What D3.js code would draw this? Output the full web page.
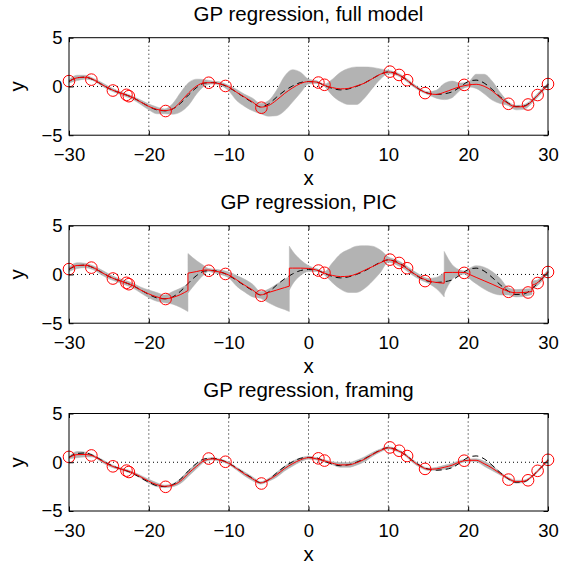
<!DOCTYPE html>
<html>
<head>
<meta charset="utf-8">
<script src="https://cdn.jsdelivr.net/npm/d3@7"></script>
<style>
  body { margin: 0; background: #fff; }
  svg { display: block; font-family: "Liberation Sans", Arial, Helvetica, sans-serif; }
</style>
</head>
<body>
<svg id="chart" width="570" height="567"></svg>
<script>
// ---- data ----
const titles = ["GP regression, full model", "GP regression, PIC", "GP regression, framing"];
const xTicks = [-30, -20, -10, 0, 10, 20, 30];
const yTicks = [-5, 0, 5];

// training points (red circles), same in every panel
const trainX = [-30, -27.2, -24.5, -22.8, -22.5, -17.9, -12.5, -10.4, -5.9, 1.24, 2.0, 10.2, 11.35, 12.35, 14.6, 19.5, 25.05, 27.5, 28.7, 30];
const trainY = [0.55, 0.7, -0.42, -0.86, -1.0, -2.52, 0.38, 0.05, -2.18, 0.4, 0.17, 1.52, 1.18, 0.64, -0.68, 0.16, -1.78, -1.85, -0.88, 0.25];

// grid for the smooth curves
const gridX = [-30, -29, -28, -27, -26, -25, -24, -23, -22, -21, -20, -19, -18, -17, -16, -15, -14, -13, -12, -11, -10,
  -9, -8, -7, -6, -5, -4, -3, -2, -1, 0, 1, 2, 3, 4, 5, 6, 7, 8, 9, 10,
  11, 12, 13, 14, 15, 16, 17, 18, 19, 20, 21, 22, 23, 24, 25, 26, 27, 28, 29, 30];

// true function (black dashed)
const truth = [0.5, 0.9, 0.95, 0.7, 0.25, -0.2, -0.55, -0.82, -1.15, -1.6, -2.05, -2.4, -2.5, -2.3, -1.7, -0.85, -0.1, 0.35, 0.4, 0.25, -0.1,
  -0.6, -1.15, -1.65, -2.1, -1.8, -1.1, -0.45, 0.05, 0.4, 0.5, 0.45, 0.1, -0.2, -0.35, -0.25, 0.0, 0.35, 0.8, 1.25, 1.5,
  1.3, 0.85, 0.2, -0.35, -0.7, -0.82, -0.75, -0.55, -0.05, 0.5, 0.65, 0.35, -0.3, -1.05, -1.7, -2.05, -2.0, -1.45, -0.65, 0.2];

// full model
const fullMean = [0.52, 0.88, 0.95, 0.72, 0.25, -0.2, -0.55, -0.82, -1.15, -1.6, -2.05, -2.35, -2.48, -2.3, -1.55, -0.65, 0.05, 0.38, 0.38, 0.25, -0.05,
  -0.6, -1.1, -1.6, -2.12, -1.95, -1.4, -0.72, -0.15, 0.3, 0.5, 0.45, 0.1, -0.12, -0.25, -0.2, 0.05, 0.33, 0.8, 1.25, 1.48,
  1.3, 0.85, 0.2, -0.35, -0.72, -0.82, -0.6, -0.3, -0.02, 0.15, 0.22, 0.02, -0.45, -1.15, -1.75, -2.1, -2.05, -1.5, -0.65, 0.2];
const fullLower = [0.35, 0.6, 0.75, 0.6, 0.1, -0.35, -0.7, -1.0, -1.35, -1.85, -2.4, -2.8, -2.8, -2.85, -2.6, -1.9, -0.75, 0.05, 0.25, 0.1, -0.45,
  -1.45, -2.05, -2.5, -2.8, -3.05, -3.0, -2.5, -1.6, -0.65, 0.25, 0.3, 0.0, -0.95, -1.55, -1.85, -1.85, -1.2, -0.2, 0.75, 1.3,
  1.15, 0.7, 0.05, -0.5, -0.85, -1.2, -1.35, -1.15, -0.4, -0.05, -0.2, -0.75, -1.4, -1.75, -1.95, -2.4, -2.35, -1.7, -0.85, 0.05];
const fullUpper = [0.7, 1.15, 1.15, 0.85, 0.45, 0.0, -0.4, -0.7, -1.0, -1.4, -1.8, -2.1, -2.3, -1.75, -0.6, 0.4, 0.75, 0.7, 0.55, 0.45, 0.1,
  -0.3, -0.8, -1.2, -1.75, -1.45, -0.4, 1.05, 1.72, 1.45, 0.75, 0.6, 0.25, 0.75, 1.45, 1.85, 2.0, 2.0, 1.95, 1.8, 1.65,
  1.45, 1.0, 0.35, -0.2, -0.55, -0.4, 0.3, 0.55, 0.35, 0.45, 1.25, 1.25, 0.55, -0.6, -1.55, -1.95, -1.85, -1.3, -0.45, 0.35];

// PIC: a repeated x starts a new block
const picX = [-30, -29, -28, -27, -26, -25, -24, -23, -22, -21, -20, -19, -18, -17, -16, -15.1,
  -15.1, -14, -13, -12.5, -12, -11, -10, -9, -8, -7, -6, -5, -4, -3, -2.4,
  -2.4, -2, -1, 0, 1, 2, 3, 4, 5, 6, 7, 8, 9, 10, 11, 12, 13, 14, 15, 16, 17,
  17, 18, 19, 19.6, 20, 21, 22, 23, 24, 25, 26, 27, 28,
  28, 28.6, 29, 30];
const picMean = [0.55, 0.92, 0.95, 0.72, 0.25, -0.2, -0.55, -0.82, -1.15, -1.6, -2.0, -2.3, -2.5, -2.35, -2.05, -1.65,
  0.13, 0.3, 0.45, 0.45, 0.38, 0.22, -0.05, -0.55, -1.1, -1.6, -2.1, -1.85, -1.6, -1.35, -1.2,
  0.65, 0.65, 0.65, 0.62, 0.45, 0.12, -0.1, -0.22, -0.18, 0.05, 0.42, 0.8, 1.2, 1.5, 1.25, 0.8, 0.2, -0.3, -0.65, -0.82, -0.9,
  0.2, 0.21, 0.21, 0.2, 0.06, -0.3, -0.65, -1.0, -1.37, -1.73, -1.88, -1.85, -1.75,
  -1.1, -0.9, -0.62, 0.3];
const picLower = [0.3, 0.6, 0.7, 0.5, 0.0, -0.45, -0.75, -1.05, -1.4, -1.9, -2.4, -2.75, -2.9, -3.05, -3.4, -3.8,
  -1.9, -0.8, 0.05, 0.3, 0.2, 0.0, -0.35, -1.2, -1.8, -2.3, -2.45, -2.9, -3.3, -3.6, -3.8,
  -1.6, -1.0, -0.1, 0.3, 0.3, -0.05, -0.85, -1.5, -1.85, -1.85, -1.45, -0.7, 0.2, 1.25, 1.0, 0.55, -0.05, -0.55, -0.9, -1.45, -2.3,
  -1.95, -0.5, -0.05, 0.05, -0.3, -0.95, -1.5, -1.9, -2.1, -2.1, -2.3, -2.25, -2.05,
  -1.55, -1.2, -0.9, 0.15];
const picUpper = [0.75, 1.2, 1.15, 0.9, 0.5, 0.05, -0.35, -0.6, -0.9, -1.3, -1.6, -1.85, -2.1, -1.75, -1.4, -1.0,
  2.15, 1.4, 0.85, 0.6, 0.55, 0.45, 0.25, -0.1, -0.5, -1.0, -1.75, -1.5, -1.0, -0.5, -0.2,
  2.9, 2.4, 1.5, 0.9, 0.6, 0.3, 1.2, 2.1, 2.55, 2.9, 2.95, 2.9, 2.5, 1.8, 1.5, 1.05, 0.45, -0.05, -0.4, -0.3, 0.2,
  2.36, 1.0, 0.45, 0.35, 0.55, 0.9, 0.75, 0.3, -0.4, -1.35, -1.55, -1.5, -1.45,
  -0.65, -0.6, -0.35, 0.45];

// framing
const frameMean = [0.47, 0.78, 0.8, 0.65, 0.2, -0.25, -0.58, -0.8, -1.1, -1.5, -1.95, -2.3, -2.47, -2.35, -1.9, -1.1, -0.4, 0.2, 0.35, 0.2, -0.1,
  -0.65, -1.2, -1.7, -2.12, -1.8, -1.29, -0.65, -0.15, 0.25, 0.47, 0.35, 0.14, -0.1, -0.27, -0.27, -0.05, 0.3, 0.8, 1.2, 1.48,
  1.25, 0.85, 0.15, -0.4, -0.72, -0.68, -0.52, -0.3, 0.05, 0.2, 0.2, -0.15, -0.6, -1.15, -1.65, -2.0, -1.95, -1.45, -0.65, 0.24];
const frameHalf = [0.12, 0.32, 0.25, 0.12, 0.15, 0.15, 0.12, 0.12, 0.12, 0.15, 0.2, 0.2, 0.12, 0.15, 0.25, 0.3, 0.25, 0.15, 0.12, 0.12, 0.12,
  0.15, 0.2, 0.2, 0.12, 0.15, 0.25, 0.25, 0.25, 0.2, 0.15, 0.12, 0.12, 0.15, 0.25, 0.25, 0.25, 0.25, 0.2, 0.15, 0.12,
  0.12, 0.12, 0.15, 0.15, 0.12, 0.15, 0.2, 0.2, 0.15, 0.12, 0.15, 0.25, 0.25, 0.15, 0.12, 0.15, 0.12, 0.12, 0.12, 0.12];

// ---- build segments ----
const toPoints = (xs, mean, lo, hi) => xs.map((x, i) => ({x: x, m: mean[i], lo: lo[i], hi: hi[i]}));

const splitBlocks = (points) => {
  const blocks = [];
  let current = [];
  points.forEach((p, i) => {
    if (i > 0 && p.x === points[i - 1].x) {
      blocks.push(current);
      current = [];
    }
    current.push(p);
  });
  blocks.push(current);
  return blocks;
};

const panels = [
  {title: titles[0], top: 37.7, blocks: [toPoints(gridX, fullMean, fullLower, fullUpper)]},
  {title: titles[1], top: 225.7, blocks: splitBlocks(toPoints(picX, picMean, picLower, picUpper))},
  {title: titles[2], top: 413.5, blocks: [toPoints(gridX, frameMean,
    frameMean.map((m, i) => m - frameHalf[i]), frameMean.map((m, i) => m + frameHalf[i]))]}
];

// ---- drawing ----
const left = 69, right = 548, plotHeight = 97.5;
const tickFont = "18.5px", labelFont = "20.5px";
const svg = d3.select("#chart");
const xScale = d3.scaleLinear().domain([-30, 30]).range([left, right]);
const fmt = (d) => d < 0 ? "\u2212" + Math.abs(d) : String(d);

const drawPanel = (panel) => {
  const top = panel.top;
  const bottom = top + plotHeight;
  const yScale = d3.scaleLinear().domain([-5, 5]).range([bottom, top]);
  const g = svg.append("g");

  // dotted grid
  g.selectAll("line.vgrid")
    .data(xTicks.slice(1, -1))
    .enter().append("line")
    .attr("x1", (d) => xScale(d)).attr("x2", (d) => xScale(d))
    .attr("y1", top).attr("y2", bottom)
    .attr("stroke", "#000").attr("stroke-width", 1).attr("stroke-dasharray", "1,3");
  g.append("line")
    .attr("x1", left).attr("x2", right)
    .attr("y1", yScale(0)).attr("y2", yScale(0))
    .attr("stroke", "#000").attr("stroke-width", 1).attr("stroke-dasharray", "1,3");

  const area = d3.area()
    .x((d) => xScale(d.x))
    .y0((d) => yScale(d.lo))
    .y1((d) => yScale(d.hi))
    .curve(d3.curveMonotoneX);
  const meanLine = d3.line()
    .x((d) => xScale(d.x))
    .y((d) => yScale(d.m))
    .curve(d3.curveMonotoneX);
  const truthLine = d3.line()
    .x((d, i) => xScale(gridX[i]))
    .y((d) => yScale(d))
    .curve(d3.curveMonotoneX);

  g.selectAll("path.band")
    .data(panel.blocks)
    .enter().append("path")
    .attr("class", "band")
    .attr("d", area)
    .attr("fill", "#b3b3b3")
    .attr("stroke", "#b3b3b3")
    .attr("stroke-width", 0.5);

  g.append("path")
    .attr("d", truthLine(truth))
    .attr("fill", "none")
    .attr("stroke", "#000")
    .attr("stroke-width", 1)
    .attr("stroke-dasharray", "6,4");

  // red mean; blocks joined by vertical steps
  g.append("path")
    .attr("d", panel.blocks.map((b) => meanLine(b)).join(""))
    .attr("fill", "none")
    .attr("stroke", "#ff0000")
    .attr("stroke-width", 1);
  for (let i = 1; i < panel.blocks.length; i++) {
    const prev = panel.blocks[i - 1];
    const a = prev[prev.length - 1];
    const b = panel.blocks[i][0];
    g.append("line")
      .attr("x1", xScale(a.x)).attr("x2", xScale(b.x))
      .attr("y1", yScale(a.m)).attr("y2", yScale(b.m))
      .attr("stroke", "#ff0000").attr("stroke-width", 1);
  }

  g.selectAll("circle.train")
    .data(trainX)
    .enter().append("circle")
    .attr("cx", (d) => xScale(d))
    .attr("cy", (d, i) => yScale(trainY[i]))
    .attr("r", 5.8)
    .attr("fill", "none")
    .attr("stroke", "#ff0000")
    .attr("stroke-width", 1);

  // axes: inward ticks on all four sides
  const ax = (axis, tx, ty, labels) => {
    const a = g.append("g").attr("transform", `translate(${tx},${ty})`).call(axis);
    a.select(".domain").remove();
    a.selectAll("line").attr("stroke", "#000");
    a.selectAll("text").attr("fill", "#000").style("font-size", tickFont);
    if (!labels) a.selectAll("text").remove();
    return a;
  };
  ax(d3.axisBottom(xScale).tickValues(xTicks).tickFormat(fmt).tickSizeInner(-4.5).tickSizeOuter(0).tickPadding(12.5), 0, bottom, true);
  ax(d3.axisTop(xScale).tickValues(xTicks).tickSizeInner(-4.5).tickSizeOuter(0), 0, top, false);
  ax(d3.axisLeft(yScale).tickValues(yTicks).tickFormat(fmt).tickSizeInner(-4.5).tickSizeOuter(0).tickPadding(6.5), left, 0, true);
  ax(d3.axisRight(yScale).tickValues(yTicks).tickSizeInner(-4.5).tickSizeOuter(0), right, 0, false);

  g.append("rect")
    .attr("x", left).attr("y", top)
    .attr("width", right - left).attr("height", plotHeight)
    .attr("fill", "none").attr("stroke", "#000").attr("stroke-width", 1);

  g.append("text")
    .attr("x", (left + right) / 2).attr("y", top - 17)
    .attr("text-anchor", "middle")
    .style("font-size", labelFont)
    .text(panel.title);
  g.append("text")
    .attr("x", (left + right) / 2).attr("y", bottom + 49.5)
    .attr("text-anchor", "middle")
    .style("font-size", labelFont)
    .text("x");
  g.append("text")
    .attr("transform", `translate(24,${yScale(0)}) rotate(-90)`)
    .attr("text-anchor", "middle")
    .style("font-size", labelFont)
    .text("y");
};

panels.forEach(drawPanel);
</script>
</body>
</html>
